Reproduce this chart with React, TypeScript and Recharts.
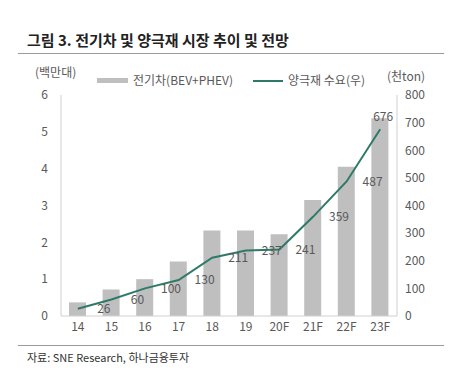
import { ComposedChart, Bar, Line, XAxis, YAxis, LabelList } from 'recharts';

const years = ['14', '15', '16', '17', '18', '19', '20F', '21F', '22F', '23F'];
const evSales = [0.37, 0.72, 1.0, 1.48, 2.32, 2.32, 2.22, 3.15, 4.05, 5.37];
const cathodeDemand = [26, 60, 100, 130, 211, 237, 241, 359, 487, 676];
const leftTicks = [0, 1, 2, 3, 4, 5, 6];
const rightTicks = [0, 100, 200, 300, 400, 500, 600, 700, 800];

const FONT = '"Noto Sans CJK KR", "Noto Sans", sans-serif';
const TEXT = '#595959';
const BAR = '#bfbfbf';
const LINE = '#2e7a68';

const data = years.map((y, i) => ({ year: y, ev: evSales[i], demand: cathodeDemand[i] }));

// 라벨이 점의 오른쪽에 찍혀 있음 (마지막만 위쪽)
const demandLabel = (props: any) => {
  const { x, y, value, index } = props;
  const last = index === cathodeDemand.length - 1;
  return (
    <text
      x={last ? x + 3 : x + 26}
      y={last ? y - 12 : y + 1}
      textAnchor="middle"
      dominantBaseline="middle"
      fontSize={12}
      fill={TEXT}
      fontFamily={FONT}
    >
      {value}
    </text>
  );
};

export default function App() {
  return (
    <div style={{ position: 'absolute', left: 0, top: 0, width: 457, height: 390, background: '#fff', fontFamily: FONT }}>
      <div style={{ position: 'absolute', left: 27, top: 29, fontSize: 15, fontWeight: 700, color: '#222' }}>
        그림 3. 전기차 및 양극재 시장 추이 및 전망
      </div>
      <div style={{ position: 'absolute', left: 18, top: 53, width: 426, height: 1, background: '#9a9a9a' }} />

      <div style={{ position: 'absolute', left: 35, top: 63, fontSize: 12, lineHeight: '17px', color: TEXT }}>(백만대)</div>
      <div style={{ position: 'absolute', left: 97, top: 78, width: 31, height: 5, background: BAR }} />
      <div style={{ position: 'absolute', left: 133, top: 71, fontSize: 12, lineHeight: '17px', color: TEXT }}>전기차(BEV+PHEV)</div>
      <div style={{ position: 'absolute', left: 253, top: 80, width: 30, height: 2, background: LINE }} />
      <div style={{ position: 'absolute', left: 288, top: 71, fontSize: 12, lineHeight: '17px', color: TEXT }}>양극재 수요(우)</div>
      <div style={{ position: 'absolute', left: 387, top: 67, fontSize: 12, lineHeight: '17px', color: TEXT }}>(천ton)</div>

      <ComposedChart
        width={457}
        height={390}
        data={data}
        margin={{ top: 95, right: 0, bottom: 44, left: 0 }}
        barCategoryGap="25%"
      >
        <XAxis
          dataKey="year"
          height={30}
          axisLine={{ stroke: '#d0d0d0' }}
          tickLine={false}
          tickSize={2}
          tickMargin={4}
          tick={{ fontSize: 12, fill: TEXT, fontFamily: FONT }}
        />
        <YAxis
          yAxisId="left"
          width={61}
          domain={[0, 6]}
          ticks={leftTicks}
          axisLine={{ stroke: '#d0d0d0' }}
          tickLine={false}
          tickSize={6}
          tickMargin={7}
          tick={{ fontSize: 12, fill: TEXT, fontFamily: FONT }}
        />
        <YAxis
          yAxisId="right"
          orientation="right"
          width={60}
          domain={[0, 800]}
          ticks={rightTicks}
          axisLine={{ stroke: '#d0d0d0' }}
          tickLine={false}
          tickSize={4}
          tickMargin={4}
          tick={{ fontSize: 12, fill: TEXT, fontFamily: FONT }}
        />
        <Bar yAxisId="left" dataKey="ev" fill={BAR} barSize={17} isAnimationActive={false} />
        <Line
          yAxisId="right"
          dataKey="demand"
          type="linear"
          stroke={LINE}
          strokeWidth={2}
          dot={false}
          isAnimationActive={false}
        >
          <LabelList dataKey="demand" content={demandLabel} />
        </Line>
      </ComposedChart>

      <div style={{ position: 'absolute', left: 18, top: 345, width: 426, height: 1, background: '#9a9a9a' }} />
      <div style={{ position: 'absolute', left: 27, top: 349, fontSize: 11, color: '#333' }}>
        자료: SNE Research, 하나금융투자
      </div>
    </div>
  );
}
